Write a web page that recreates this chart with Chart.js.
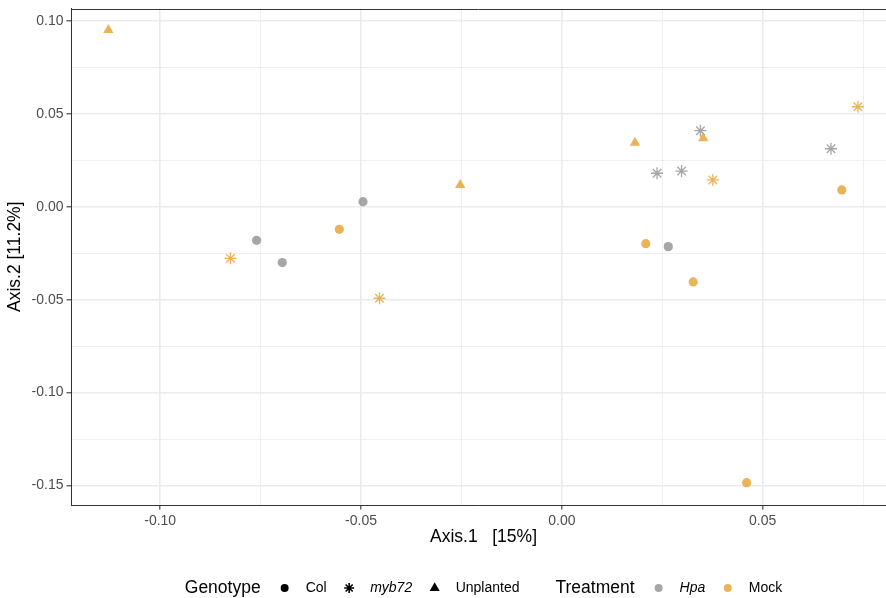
<!DOCTYPE html>
<html>
<head>
<meta charset="utf-8">
<script src="https://cdn.jsdelivr.net/npm/chart.js@4"></script>
<style>
  html, body { margin: 0; padding: 0; background: #fff; overflow: hidden; }
  canvas { display: block; }
</style>
</head>
<body>
<canvas id="pcoa" width="886" height="598" style="width:886px;height:598px"></canvas>
<script>
// PCoA ordination scores, one pair of arrays per Genotype x Treatment group
const colHpaX   = [-0.0495, -0.0760, -0.0696, 0.0265];
const colHpaY   = [ 0.0028, -0.0180, -0.0300, -0.0214];
const colMockX  = [-0.0554, 0.0209, 0.0327, 0.0697, 0.0460];
const colMockY  = [-0.0121, -0.0198, -0.0404, 0.0091, -0.1485];
const mybHpaX   = [0.0345, 0.0670, 0.0237, 0.0298];
const mybHpaY   = [0.0410, 0.0313, 0.0181, 0.0193];
const mybMockX  = [0.0737, 0.0376, -0.0825, -0.0454];
const mybMockY  = [0.0539, 0.0145, -0.0277, -0.0492];
const unplMockX = [-0.1129, -0.0253, 0.0182, 0.0352];
const unplMockY = [ 0.0952, 0.0118, 0.0345, 0.0369];

// axis ranges (the panel runs on past the right edge of the canvas) and grid breaks
const xRange = [-0.1222, 0.0807];
const yRange = [-0.1605, 0.1068];
const xMajor = [-0.10, -0.05, 0.00, 0.05];
const xMinor = [-0.075, -0.025, 0.025, 0.075];
const yMajor = [-0.15, -0.10, -0.05, 0.00, 0.05, 0.10];
const yMinor = [-0.125, -0.075, -0.025, 0.025, 0.075];

const xTitle = 'Axis.1   [15%]';
const yTitle = 'Axis.2 [11.2%]';

const genotypeTitle = 'Genotype';
const genotypeLevels = ['Col', 'myb72', 'Unplanted'];
const treatmentTitle = 'Treatment';
const treatmentLevels = ['Hpa', 'Mock'];

const FONT = '"Liberation Sans", Arial, Helvetica, sans-serif';
const ORANGE = 'rgba(230,160,45,0.8)';
const GREY = 'rgba(150,150,150,0.85)';
// horizontal centre of the full panel, which is wider than the canvas
const PANEL_CENTRE = 483.5;

const pts = (xs, ys) => xs.map((x, i) => ({ x: x, y: ys[i] }));
const near = (a, b) => Math.abs(a - b) < 1e-9;
const isMajor = (v, list) => list.some(m => near(m, v));

function fixedTicks(major, minor) {
  return function (scale) {
    scale.ticks = major.concat(minor).sort((a, b) => a - b).map(v => ({ value: v }));
  };
}

function axisOpts(range, major, minor, fitFn, title) {
  return {
    type: 'linear',
    min: range[0],
    max: range[1],
    afterBuildTicks: fixedTicks(major, minor),
    afterFit: fitFn,
    border: { display: true, color: '#333333', width: 1 },
    grid: {
      color: '#EBEBEB',
      lineWidth: ctx => (ctx.tick && isMajor(ctx.tick.value, major)) ? 1.6 : 0.8,
      drawTicks: true,
      tickLength: 4.5,
      tickColor: ctx => (ctx.tick && isMajor(ctx.tick.value, major)) ? '#333333' : 'rgba(0,0,0,0)',
      tickWidth: ctx => (ctx.tick && isMajor(ctx.tick.value, major)) ? 1.1 : 0
    },
    ticks: {
      autoSkip: false,
      maxRotation: 0,
      padding: 3,
      color: '#4D4D4D',
      font: { family: FONT, size: 14 },
      callback: v => isMajor(v, major) ? (near(v, 0) ? '0.00' : v.toFixed(2)) : ''
    },
    title: title || { display: false }
  };
}

// panel border on the top side, plus the x-axis title centred on the panel
const panelExtras = {
  id: 'panelExtras',
  afterDraw(chart) {
    const { ctx, chartArea: a } = chart;
    ctx.save();
    ctx.strokeStyle = '#333333';
    ctx.lineWidth = 1;
    ctx.beginPath();
    ctx.moveTo(a.left, Math.round(a.top) + 0.5);
    ctx.lineTo(a.right, Math.round(a.top) + 0.5);
    ctx.stroke();
    ctx.font = '17.5px ' + FONT;
    ctx.fillStyle = '#000';
    ctx.textAlign = 'center';
    ctx.textBaseline = 'middle';
    ctx.fillText(xTitle, PANEL_CENTRE, 537);
    ctx.restore();
  }
};

// two-group legend (shape = Genotype, colour = Treatment) along the bottom
const bottomLegend = {
  id: 'bottomLegend',
  afterDraw(chart) {
    const ctx = chart.ctx;
    const y = 588;
    const titleFont = '17.5px ' + FONT;
    const labelFont = '14px ' + FONT;
    const italicFont = 'italic 14px ' + FONT;
    const groups = [
      { title: genotypeTitle, items: [
        { label: genotypeLevels[0], style: 'circle', r: 4, color: '#000', italic: false },
        { label: genotypeLevels[1], style: 'star', r: 5, color: '#000', italic: true },
        { label: genotypeLevels[2], style: 'triangle', r: 5.8, color: '#000', italic: false }
      ]},
      { title: treatmentTitle, items: [
        { label: treatmentLevels[0], style: 'circle', r: 4, color: GREY, italic: true },
        { label: treatmentLevels[1], style: 'circle', r: 4, color: ORANGE, italic: false }
      ]}
    ];
    const titleToKey = 24, keyToLabel = 21, labelToKey = 22.5, groupGap = 36;
    ctx.save();
    let total = 0;
    groups.forEach((g, gi) => {
      ctx.font = titleFont;
      total += ctx.measureText(g.title).width;
      g.items.forEach((it, ii) => {
        ctx.font = it.italic ? italicFont : labelFont;
        total += (ii === 0 ? titleToKey : labelToKey) + keyToLabel + ctx.measureText(it.label).width;
      });
      if (gi < groups.length - 1) total += groupGap;
    });
    let x = PANEL_CENTRE - total / 2;
    ctx.textBaseline = 'middle';
    ctx.textAlign = 'left';
    groups.forEach((g, gi) => {
      ctx.font = titleFont;
      ctx.fillStyle = '#000';
      ctx.fillText(g.title, x, y);
      x += ctx.measureText(g.title).width;
      g.items.forEach((it, ii) => {
        x += (ii === 0 ? titleToKey : labelToKey);
        ctx.save();
        ctx.fillStyle = it.color;
        ctx.strokeStyle = it.color;
        ctx.lineWidth = it.style === 'star' ? 1.6 : 1;
        Chart.helpers.drawPoint(ctx, {
          pointStyle: it.style,
          radius: it.r,
          rotation: 0,
          borderWidth: it.style === 'star' ? 1.6 : 0
        }, x, y);
        ctx.restore();
        x += keyToLabel;
        ctx.font = it.italic ? italicFont : labelFont;
        ctx.fillStyle = '#000';
        ctx.fillText(it.label, x, y);
        x += ctx.measureText(it.label).width;
      });
      if (gi < groups.length - 1) x += groupGap;
    });
    ctx.restore();
  }
};

function ds(label, xs, ys, style, color, radius, order) {
  const star = style === 'star';
  return {
    label: label,
    data: pts(xs, ys),
    pointStyle: style,
    pointRadius: radius,
    pointHoverRadius: radius,
    backgroundColor: color,
    borderColor: color,
    pointBorderWidth: star ? 1.3 : 0,
    borderWidth: star ? 1.3 : 0,
    order: order
  };
}

new Chart(document.getElementById('pcoa'), {
  type: 'scatter',
  data: {
    datasets: [
      ds('Col Hpa', colHpaX, colHpaY, 'circle', GREY, 4.6, 4),
      ds('Col Mock', colMockX, colMockY, 'circle', ORANGE, 4.6, 3),
      ds('myb72 Hpa', mybHpaX, mybHpaY, 'star', GREY, 6, 2),
      ds('myb72 Mock', mybMockX, mybMockY, 'star', ORANGE, 6, 1),
      ds('Unplanted Mock', unplMockX, unplMockY, 'triangle', ORANGE, 6, 0)
    ]
  },
  options: {
    responsive: false,
    maintainAspectRatio: false,
    animation: false,
    devicePixelRatio: 1,
    layout: { autoPadding: false, padding: { top: 8.5, left: 0, right: 0, bottom: 0 } },
    plugins: { legend: { display: false }, tooltip: { enabled: false } },
    scales: {
      x: axisOpts(xRange, xMajor, xMinor, s => {
        s.height = 93; s.paddingLeft = 0; s.paddingRight = 0;
      }),
      y: axisOpts(yRange, yMajor, yMinor, s => {
        s.width = 71; s.paddingTop = 0; s.paddingBottom = 0;
      }, {
        display: true,
        text: yTitle,
        color: '#000000',
        font: { family: FONT, size: 17.5 },
        padding: { top: 5, bottom: 0 }
      })
    }
  },
  plugins: [panelExtras, bottomLegend]
});
</script>
</body>
</html>
